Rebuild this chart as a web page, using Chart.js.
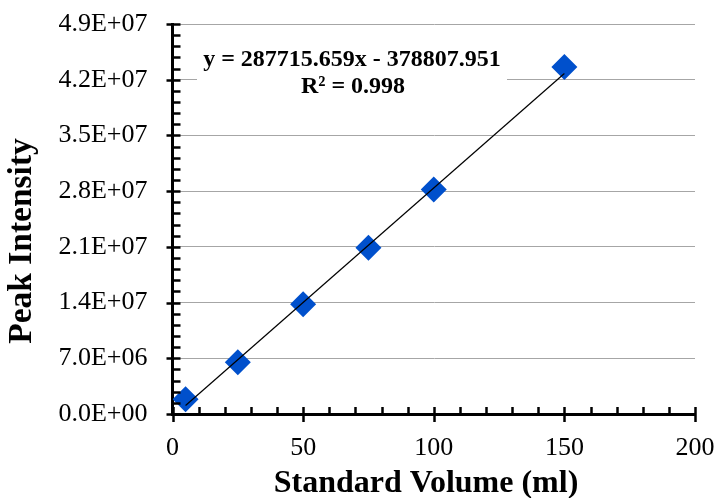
<!DOCTYPE html>
<html>
<head>
<meta charset="utf-8">
<script src="https://cdn.jsdelivr.net/npm/chart.js@4/dist/chart.umd.min.js"></script>
<style>
  html, body { margin: 0; padding: 0; background: #fff; }
  #wrap { position: relative; width: 718px; height: 498px; }
</style>
</head>
<body>
<div id="wrap"><canvas id="calChart"></canvas></div>
<script>
// ─── Data ───────────────────────────────────────────
const volumes    = [5, 25, 50, 75, 100, 150];                                   // ml
const intensities = [1.85e6, 6.5e6, 1.38e7, 2.09e7, 2.82e7, 4.36e7];           // peak intensity
const fitSlope     = 287715.659;
const fitIntercept = -378807.951;
const fitRange     = [5, 150];
const equationText = ['y = 287715.659x - 378807.951', 'R\u00B2 = 0.998'];
const xTitle = 'Standard Volume (ml)';
const yTitle = 'Peak Intensity';

const SERIF = "'Liberation Serif', 'Times New Roman', serif";

// "4.9E+07" style labels
const sci = v => {
  const [m, e] = Number(v).toExponential(1).split('e');
  const sign = e[0] === '-' ? '-' : '+';
  return m + 'E' + sign + e.replace(/[+-]/, '').padStart(2, '0');
};

// ─── Ticks, titles and equation box ─────────────────
const decor = {
  id: 'decor',
  beforeDatasetsDraw(chart) {
    const ctx = chart.ctx;
    // white box behind the equation
    ctx.save();
    ctx.fillStyle = '#fff';
    ctx.fillRect(197, 42, 310, 58);
    ctx.restore();
  },
  afterDraw(chart) {
    const { ctx, scales: { x, y }, chartArea: ca } = chart;
    ctx.save();
    ctx.strokeStyle = '#000';
    ctx.lineCap = 'butt';
    ctx.lineWidth = 2.5;

    // y ticks: major cross the axis, minor point inside
    for (let v = 0; v <= 4.9e7 + 1; v += 1.4e6) {
      const py = Math.round(y.getPixelForValue(v)) + 0.5;
      const major = Math.abs(v / 7e6 - Math.round(v / 7e6)) < 1e-6;
      ctx.beginPath();
      ctx.moveTo(ca.left - (major ? 6 : 0), py);
      ctx.lineTo(ca.left + 8, py);
      ctx.stroke();
    }
    // x ticks
    for (let v = 0; v <= 200; v += 10) {
      const px = Math.round(x.getPixelForValue(v)) + 0.5;
      const major = v % 50 === 0;
      ctx.beginPath();
      ctx.moveTo(px, ca.bottom + (major ? 8 : 0));
      ctx.lineTo(px, ca.bottom - 7);
      ctx.stroke();
    }

    // axis titles
    ctx.fillStyle = '#000';
    ctx.font = `bold 32px ${SERIF}`;
    ctx.textAlign = 'center';
    ctx.textBaseline = 'middle';
    ctx.fillText(xTitle, 426, 484);
    ctx.save();
    ctx.translate(22, 241);
    ctx.rotate(-Math.PI / 2);
    ctx.font = `bold 33.5px ${SERIF}`;
    ctx.fillText(yTitle, 0, 0);
    ctx.restore();

    // trendline equation
    ctx.font = `bold 24px ${SERIF}`;
    ctx.fillText(equationText[0], 352, 60);
    ctx.fillText(equationText[1], 353, 87);
    ctx.restore();
  },
};

// ─── Chart ──────────────────────────────────────────
const points = volumes.map((v, i) => ({ x: v, y: intensities[i] }));
const fitLine = fitRange.map(v => ({ x: v, y: fitSlope * v + fitIntercept }));

new Chart(document.getElementById('calChart'), {
  type: 'scatter',
  data: {
    datasets: [
      {
        type: 'line',
        data: fitLine,
        borderColor: '#000',
        borderWidth: 1.2,
        pointRadius: 0,
        fill: false,
        order: 0,
      },
      {
        data: points,
        pointStyle: 'rectRot',
        pointRadius: 13,
        pointHoverRadius: 13,
        backgroundColor: '#0050CC',
        borderWidth: 0,
        order: 1,
      },
    ],
  },
  options: {
    responsive: true, maintainAspectRatio: false, animation: false,
    layout: { padding: { top: 24, right: 23, left: 0, bottom: 0 } },
    plugins: { legend: { display: false }, tooltip: { enabled: false } },
    scales: {
      x: {
        type: 'linear', min: 0, max: 200,
        ticks: { stepSize: 50, color: '#000', padding: 19, font: { size: 26, family: SERIF } },
        grid: { display: false, drawTicks: false },
        border: { display: true, color: '#000', width: 3 },
        afterFit: s => { s.height = 84; s.paddingLeft = 0; s.paddingRight = 0; },
      },
      y: {
        min: 0, max: 4.9e7,
        ticks: { stepSize: 7e6, color: '#000', padding: 25, callback: sci, font: { size: 26, family: SERIF } },
        grid: { color: '#a6a6a6', lineWidth: 1, drawTicks: false },
        border: { display: true, color: '#000', width: 3 },
        afterFit: s => { s.width = 172.5; s.paddingTop = 0; s.paddingBottom = 0; },
      },
    },
  },
  plugins: [decor],
});
</script>
</body>
</html>
